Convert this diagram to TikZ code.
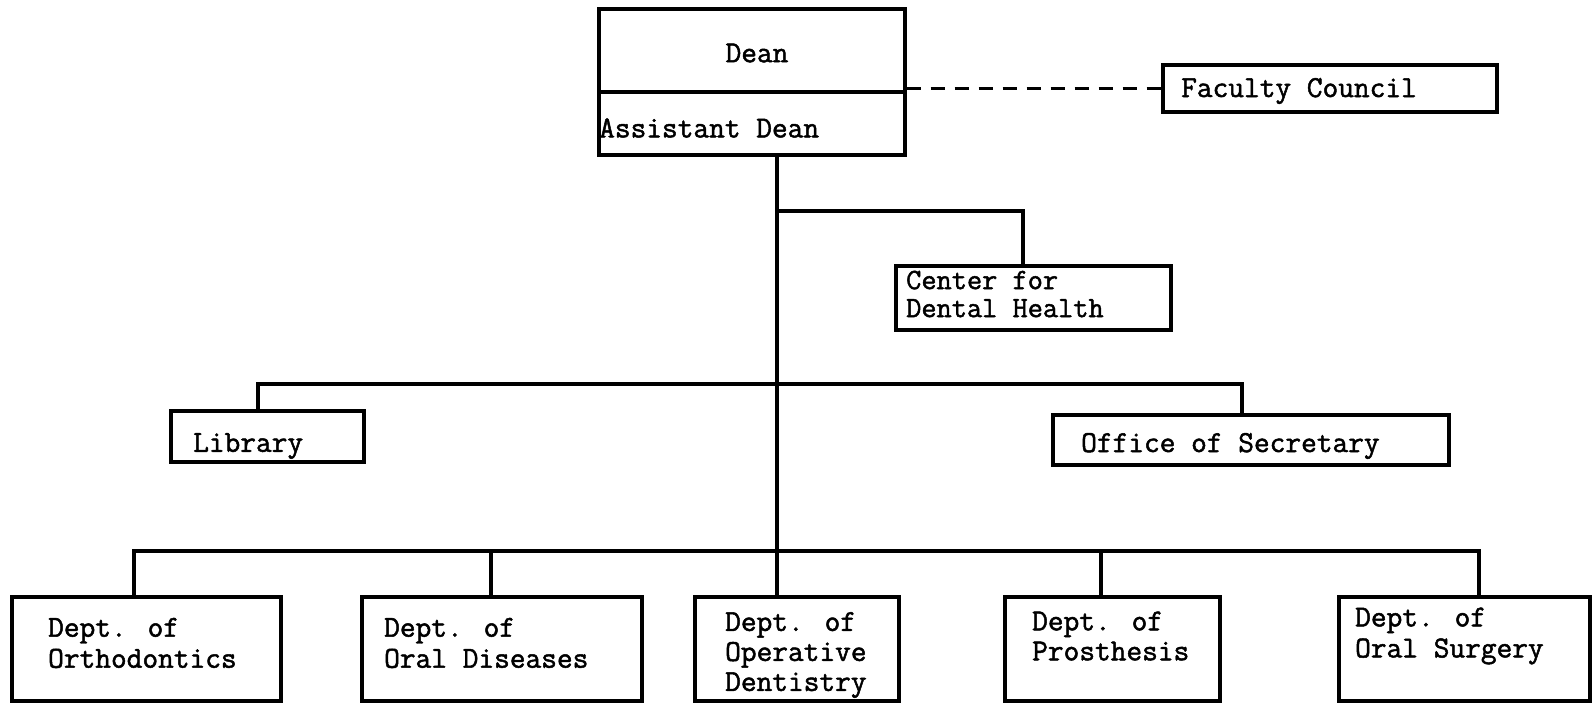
\documentclass[tikz,border=0pt]{standalone}
\usepackage{fontspec}
\newfontfamily\tw[RawFeature={embolden=1.6}]{Latin Modern Mono}
\begin{document}
\begin{tikzpicture}[x=1pt,y=-1pt,
  box/.style={draw, line width=3.2pt, inner sep=0pt, minimum width=#1},
  conn/.style={line width=3.2pt},
  lbl/.style={inner sep=0pt, anchor=west, align=left, font=\tw\fontsize{30.5}{31}\selectfont},
  dashconn/.style={line width=2.8pt, dash pattern=on 14pt off 10pt}]
\useasboundingbox (0,0) rectangle (1593,704);
% boxes
\node[box=306pt, minimum height=146pt] (dean) at (752,82) {};
\node[box=334pt, minimum height=47pt] (faculty) at (1330,88.5) {};
\node[box=275pt, minimum height=64pt] (center) at (1033.5,298) {};
\node[box=193pt, minimum height=51pt] (library) at (267.5,436.5) {};
\node[box=396pt, minimum height=50pt] (office) at (1251,440) {};
\node[box=269pt, minimum height=104pt] (orth) at (146.5,649) {};
\node[box=280pt, minimum height=104pt] (oraldis) at (502,649) {};
\node[box=204pt, minimum height=104pt] (oper) at (797,649) {};
\node[box=215pt, minimum height=104pt] (pros) at (1112.5,649) {};
\node[box=251pt, minimum height=104pt] (surg) at (1464.5,649) {};
% texts
\node[lbl, anchor=center] (tdean) at (757,53) {Dean};
\node[lbl] (tadean) at (599,128) {Assistant Dean};
\node[lbl] (tfac) at (1181,91) {Faculty Council};
\node[lbl, font=\tw\fontsize{29.5}{28}\selectfont] (tcen) at (906,294) {Center for\\Dental Health};
\node[lbl] (tlib) at (193,446) {Library};
\node[lbl] (toff) at (1081,446) {Office of Secretary};
\node[lbl] (torth) at (48,643) {Dept. of\\Orthodontics};
\node[lbl] (toral) at (384,643) {Dept. of\\Oral Diseases};
\node[lbl, font=\tw\fontsize{30.5}{30}\selectfont] (toper) at (725,655) {Dept. of\\Operative\\Dentistry};
\node[lbl, font=\tw\fontsize{30.5}{30}\selectfont] (tpros) at (1032,636) {Dept. of\\Prosthesis};
\node[lbl] (tsurg) at (1355,636) {Dept. of\\Oral Surgery};
% divider in dean box
\coordinate (div) at (599,92);
\draw[conn] (div -| dean.west) -- (div -| dean.east);
% dashed link
\draw[dashconn] (dean.east |- faculty.west) -- (faculty.west);
% connectors
\coordinate (tt) at (777,155);
\coordinate (b1) at (777,211);
\coordinate (cc) at (1023,266);
\coordinate (bus2) at (777,384);
\coordinate (l1) at (258,411);
\coordinate (o1) at (1242,415);
\coordinate (bus3) at (777,551);
\coordinate (d1) at (134,597);
\coordinate (d2) at (491,597);
\coordinate (d4) at (1101,597);
\coordinate (d5) at (1479,597);
\draw[conn] (tt) -- (tt |- oper.north);
\draw[conn] (b1) -| (cc);
\draw[conn] (l1) |- (bus2) -| (o1);
\draw[conn] (d1) |- (bus3) -| (d5);
\draw[conn] (d2) -- (d2 |- bus3);
\draw[conn] (d4) -- (d4 |- bus3);
\end{tikzpicture}
\end{document}
